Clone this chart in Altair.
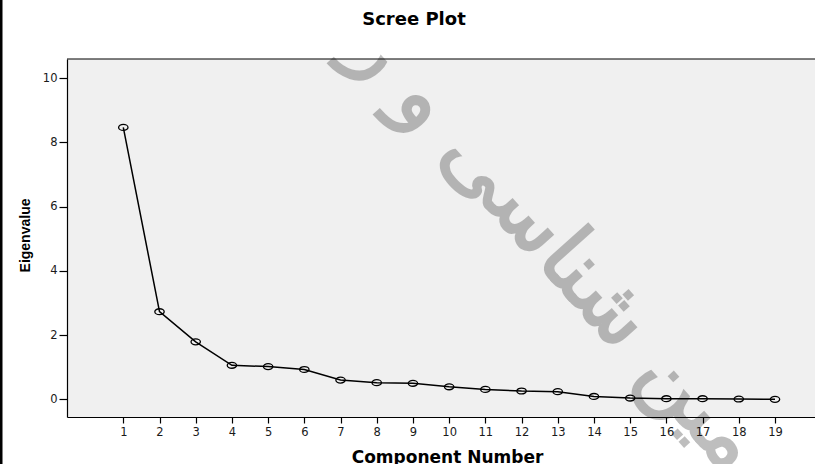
import altair as alt
import pandas as pd

# Scree plot data: eigenvalue of each extracted component
components = list(range(1, 20))
eigenvalues = [8.47, 2.73, 1.79, 1.06, 1.02, 0.93, 0.60, 0.52, 0.50, 0.39,
               0.31, 0.26, 0.24, 0.09, 0.04, 0.02, 0.02, 0.01, 0.00]
y_ticks = [0, 2, 4, 6, 8, 10]
chart_title = "Scree Plot"
watermark = "زمین شناسی و ر"

W, H = 748, 358
df = pd.DataFrame({"component": components, "eigenvalue": eigenvalues})
one = pd.DataFrame({"k": [0]})

x_scale = alt.Scale(domain=[-0.555, 20.105], nice=False, zero=False)
y_scale = alt.Scale(domain=[-0.55, 10.6], nice=False, zero=False)

x_axis = alt.Axis(
    values=components, title="Component Number", grid=False,
    domainColor="black", domainWidth=1.2,
    tickColor="black", tickSize=6, tickWidth=1.2,
    labelFont="DejaVu Sans", labelFontSize=11.5, labelColor="#1a1a1a",
    labelPadding=3, labelAngle=0, labelFlush=False, labelOverlap=False,
    titleFont="DejaVu Sans", titleFontSize=17, titleFontWeight="bold",
    titleColor="black", titleX=380, titleY=45,
    titleBaseline="alphabetic", titleAlign="center",
)
y_axis = alt.Axis(
    values=y_ticks, title="Eigenvalue", grid=False,
    domainColor="black", domainWidth=1.2,
    tickColor="black", tickSize=8, tickWidth=1.2,
    labelFont="DejaVu Sans", labelFontSize=11.5, labelColor="#1a1a1a",
    labelPadding=2, labelFlush=False, labelOverlap=False,
    titleFont="Liberation Sans", titleFontSize=14, titleFontWeight="bold",
    titleColor="black", titleX=-42, titleY=176, titleAngle=270,
    titleAlign="center", titleBaseline="middle",
)

enc = dict(
    x=alt.X("component:Q", scale=x_scale, axis=x_axis),
    y=alt.Y("eigenvalue:Q", scale=y_scale, axis=y_axis),
)

line = alt.Chart(df).mark_line(color="black", strokeWidth=1.5).encode(**enc)

ellipse = "M-1,0A1,0.63,0,1,1,1,0A1,0.63,0,1,1,-1,0Z"
points = alt.Chart(df).mark_point(
    shape=ellipse, size=88, filled=False, stroke="black",
    strokeWidth=1.3, opacity=1,
).encode(**enc)

# top edge of the plot frame
top_edge = alt.Chart(one).mark_rule(color="black", strokeWidth=1.2).encode(
    x=alt.value(0), x2=alt.value(W), y=alt.value(0)
)

# dark page edge on the far left
page_edge = alt.Chart(one).mark_rule(color="black", strokeWidth=3).encode(
    x=alt.value(-66), y=alt.value(-59), y2=alt.value(H + 47)
)

title_text = alt.Chart(one).mark_text(
    text=chart_title, font="DejaVu Sans", fontSize=18, fontWeight="bold",
    color="black", align="center", baseline="alphabetic",
).encode(x=alt.value(347), y=alt.value(-34))

mark_text = alt.Chart(one).mark_text(
    text=watermark, font="DejaVu Sans", fontSize=86, angle=48,
    color="black", stroke="black", strokeWidth=2,
    opacity=0.25, align="center", baseline="middle",
).encode(x=alt.value(503), y=alt.value(203))

chart = alt.layer(
    line, points, top_edge, page_edge, title_text, mark_text
).properties(
    width=W, height=H,
    padding={"left": 67, "top": 59, "right": 0, "bottom": 47},
    autosize="none",
    background="white",
).configure_view(fill="#f0f0f0", stroke=None)

chart.save("out.html", embed_options={"renderer": "svg", "actions": False})
